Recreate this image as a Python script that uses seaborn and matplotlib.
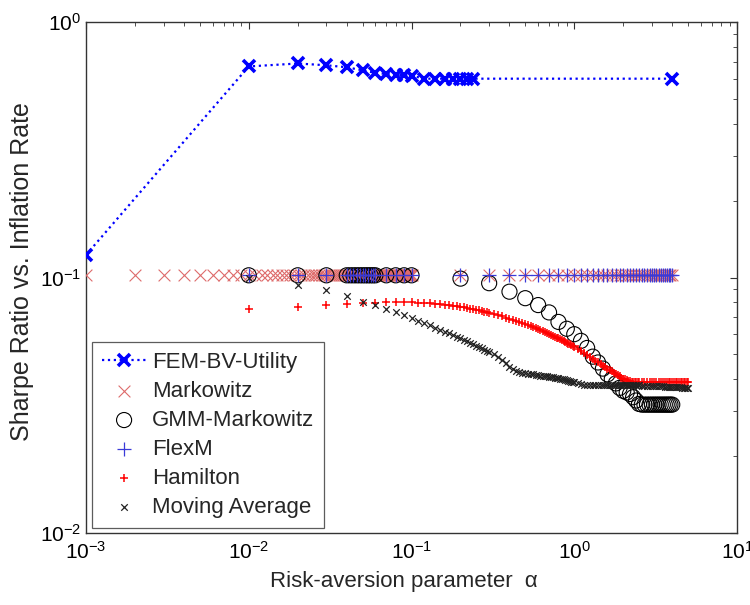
import numpy as np
import pandas as pd
import matplotlib
matplotlib.use("Agg")
import matplotlib.pyplot as plt
import seaborn as sns
from matplotlib.ticker import LogLocator, LogFormatterSciNotation, NullFormatter

# ---------------- data ----------------
fem_x = [0.001, 0.01, 0.02, 0.03, 0.04, 0.05, 0.06, 0.07, 0.08, 0.09, 0.10,
         0.12, 0.14, 0.16, 0.18, 0.20, 0.22, 0.24, 4.0]
fem_y = [0.1225, 0.670, 0.688, 0.677, 0.665, 0.647, 0.632, 0.626, 0.622, 0.619, 0.617,
         0.600, 0.600, 0.600, 0.600, 0.600, 0.600, 0.600, 0.600]

markowitz_x = np.round(np.concatenate([np.arange(0.001, 0.1005, 0.001),
                                       np.arange(0.2, 4.05, 0.1)]), 3)
markowitz_level = 0.102

gmm_x = [0.01, 0.02, 0.03, 0.04, 0.042, 0.044, 0.046, 0.048, 0.05, 0.052, 0.054,
         0.056, 0.058, 0.06, 0.07, 0.08, 0.09, 0.10,
         0.2, 0.3, 0.4, 0.5, 0.6, 0.7, 0.8, 0.9, 1.0, 1.1, 1.2, 1.3, 1.4, 1.5, 1.6,
         1.7, 1.8, 1.9, 2.0, 2.1, 2.2, 2.3, 2.4, 2.5, 2.6, 2.7, 2.8, 2.9, 3.0, 3.1,
         3.2, 3.3, 3.4, 3.5, 3.6, 3.7, 3.8, 3.9, 4.0]
gmm_y = [0.102] * 18 + [
    0.099, 0.095, 0.088, 0.083, 0.078, 0.073, 0.067, 0.063, 0.060, 0.0565, 0.053,
    0.049, 0.0465, 0.044, 0.0418, 0.040, 0.0385, 0.037, 0.036, 0.0355, 0.035,
    0.034, 0.033, 0.032, 0.0318, 0.0318, 0.0318, 0.0318, 0.0318, 0.0318, 0.0318,
    0.0318, 0.0318, 0.0318, 0.0318, 0.0318, 0.0318, 0.0318, 0.0318]

flexm_x = gmm_x
flexm_level = 0.102

dense_x = np.round(np.concatenate([np.arange(0.01, 0.305, 0.01),
                                   np.arange(0.32, 1.005, 0.02),
                                   np.arange(1.05, 2.505, 0.05),
                                   np.arange(2.6, 5.005, 0.1)]), 2)

hamilton_y = [
    0.0755, 0.0767, 0.0783, 0.0790, 0.0798, 0.0798, 0.0800, 0.0802, 0.0802, 0.0800,
    0.0798, 0.0795, 0.0792, 0.0789, 0.0786, 0.0783, 0.0780, 0.0776, 0.0772, 0.0768,
    0.0764, 0.0760, 0.0756, 0.0752, 0.0748, 0.0744, 0.0740, 0.0736, 0.0732, 0.0728,
    0.0720, 0.0712, 0.0704, 0.0697, 0.0690, 0.0683, 0.0676, 0.0669, 0.0662, 0.0656,
    0.0650, 0.0644, 0.0638, 0.0632, 0.0626, 0.0621, 0.0616, 0.0611, 0.0606, 0.0601,
    0.0596, 0.0591, 0.0587, 0.0582, 0.0578, 0.0574, 0.0569, 0.0565, 0.0560, 0.0556,
    0.0551, 0.0547, 0.0542, 0.0538, 0.0534,
    0.0524, 0.0514, 0.0505, 0.0496, 0.0488, 0.0480, 0.0472, 0.0465, 0.0458, 0.0452,
    0.0446, 0.0440, 0.0434, 0.0429, 0.0424, 0.0419, 0.0414, 0.0410, 0.0406, 0.0402,
    0.0399, 0.0396, 0.0394, 0.0392, 0.0391, 0.0390, 0.0390, 0.0390, 0.0390, 0.0390,
    0.0390, 0.0390, 0.0390, 0.0390, 0.0390, 0.0390, 0.0390, 0.0390, 0.0390, 0.0390,
    0.0390, 0.0390, 0.0390, 0.0390, 0.0390, 0.0390, 0.0390, 0.0390, 0.0390, 0.0390,
    0.0390, 0.0390, 0.0390, 0.0390, 0.0390]

movavg_y = [
    0.1000, 0.0937, 0.0895, 0.0846, 0.0800, 0.0779, 0.0750, 0.0735, 0.0715, 0.0695,
    0.0677, 0.0664, 0.0650, 0.0637, 0.0625, 0.0614, 0.0604, 0.0595, 0.0586, 0.0578,
    0.0570, 0.0562, 0.0555, 0.0548, 0.0541, 0.0534, 0.0528, 0.0522, 0.0516, 0.0510,
    0.0500, 0.0489, 0.0476, 0.0462, 0.0448, 0.0437, 0.0430, 0.0426, 0.0423, 0.0421,
    0.0420, 0.0419, 0.0418, 0.0416, 0.0414, 0.0413, 0.0412, 0.0411, 0.0410, 0.0409,
    0.0408, 0.0407, 0.0405, 0.0404, 0.0403, 0.0402, 0.0400, 0.0399, 0.0397, 0.0396,
    0.0394, 0.0393, 0.0391, 0.0390, 0.0389,
    0.0387, 0.0384, 0.0381, 0.0379, 0.0378, 0.0378, 0.0378, 0.0378, 0.0378, 0.0378,
    0.0378, 0.0378, 0.0378, 0.0378, 0.0378, 0.0378, 0.0378, 0.0378, 0.0378, 0.0378,
    0.0378, 0.0378, 0.0378, 0.0378, 0.0378, 0.0378, 0.0378, 0.0378, 0.0378, 0.0378,
    0.0377, 0.0377, 0.0377, 0.0377, 0.0377, 0.0377, 0.0377, 0.0377, 0.0377, 0.0377,
    0.0374, 0.0374, 0.0374, 0.0374, 0.0374, 0.0374, 0.0374, 0.0374, 0.0374, 0.0374,
    0.0370, 0.0370, 0.0370, 0.0370, 0.0370]

labels = ["FEM-BV-Utility", "Markowitz", "GMM-Markowitz", "FlexM", "Hamilton",
          "Moving Average"]
x_label = "Risk-aversion parameter  α"
y_label = "Sharpe Ratio vs. Inflation Rate"

# ---------------- style ----------------
sns.set_theme(style="white")
plt.rcParams['font.family'] = ['Liberation Sans', 'DejaVu Sans']
plt.rcParams['mathtext.default'] = 'regular'

fig = plt.figure(figsize=(7.5, 6.05), dpi=100)
ax = fig.add_axes([86 / 750, 1 - 533 / 605, 651 / 750, 511 / 605])

df_fem = pd.DataFrame({"x": fem_x, "y": fem_y})
df_mk = pd.DataFrame({"x": markowitz_x, "y": markowitz_level})
df_gmm = pd.DataFrame({"x": gmm_x, "y": gmm_y})
df_flex = pd.DataFrame({"x": flexm_x, "y": flexm_level})
df_ham = pd.DataFrame({"x": dense_x, "y": hamilton_y})
df_ma = pd.DataFrame({"x": dense_x, "y": movavg_y})

sns.lineplot(data=df_fem, x="x", y="y", ax=ax, color="#0000ff", linestyle=":",
             linewidth=1.6, marker="x", markersize=8.5, markeredgewidth=2.6,
             markeredgecolor="#0000ff", label=labels[0], zorder=6)
sns.scatterplot(data=df_mk, x="x", y="y", ax=ax, marker="x", color="#de6b6b",
                s=72, linewidth=0.8, label=labels[1], zorder=3)
sns.scatterplot(data=df_gmm, x="x", y="y", ax=ax, marker="o", facecolors="none",
                edgecolor="black", s=118, linewidth=0.8, label=labels[2], zorder=4)
sns.scatterplot(data=df_flex, x="x", y="y", ax=ax, marker="+", color="#3a3ad8",
                s=105, linewidth=0.9, label=labels[3], zorder=4)
sns.scatterplot(data=df_ham, x="x", y="y", ax=ax, marker="+", color="#ff0000",
                s=40, linewidth=1.1, label=labels[4], zorder=5)
sns.scatterplot(data=df_ma, x="x", y="y", ax=ax, marker="x", color="#222222",
                s=22, linewidth=0.9, label=labels[5], zorder=5)

ax.set_xscale("log")
ax.set_yscale("log")
ax.set_xlim(1e-3, 1e1)
ax.set_ylim(1e-2, 1e0)

ax.xaxis.set_major_locator(LogLocator(base=10, numticks=10))
ax.yaxis.set_major_locator(LogLocator(base=10, numticks=10))
ax.xaxis.set_minor_locator(LogLocator(base=10, subs=np.arange(2, 10), numticks=20))
ax.yaxis.set_minor_locator(LogLocator(base=10, subs=np.arange(2, 10), numticks=20))
ax.xaxis.set_major_formatter(LogFormatterSciNotation())
ax.yaxis.set_major_formatter(LogFormatterSciNotation())
ax.xaxis.set_minor_formatter(NullFormatter())
ax.yaxis.set_minor_formatter(NullFormatter())

ax.tick_params(which="both", direction="in", top=True, right=True, colors="#333333",
               labelcolor="black", labelsize=15)
ax.tick_params(axis="x", which="major", length=5, width=0.8, pad=6)
ax.tick_params(axis="y", which="major", length=5, width=0.8, pad=3.5)
ax.tick_params(which="minor", length=3, width=0.6)
for sp in ax.spines.values():
    sp.set_color("#333333")
    sp.set_linewidth(1.0)
ax.grid(False)

ax.set_xlabel(x_label, fontsize=16, labelpad=4)
ax.xaxis.set_label_coords((404 - 86) / 651, -0.075)
ax.set_ylabel(y_label, fontsize=18)
ax.yaxis.set_label_coords((34 - 86) / 651, (533 - 272) / 511)

leg = ax.legend(loc="upper left", bbox_to_anchor=(0.009, 0.374), borderaxespad=0,
                fontsize=16, frameon=True, fancybox=False, edgecolor="#333333",
                handlelength=2.0, handletextpad=0.25, labelspacing=0.36,
                borderpad=0.45)
leg.get_frame().set_linewidth(0.9)

fig.savefig("out.png", dpi=100, facecolor="white")
